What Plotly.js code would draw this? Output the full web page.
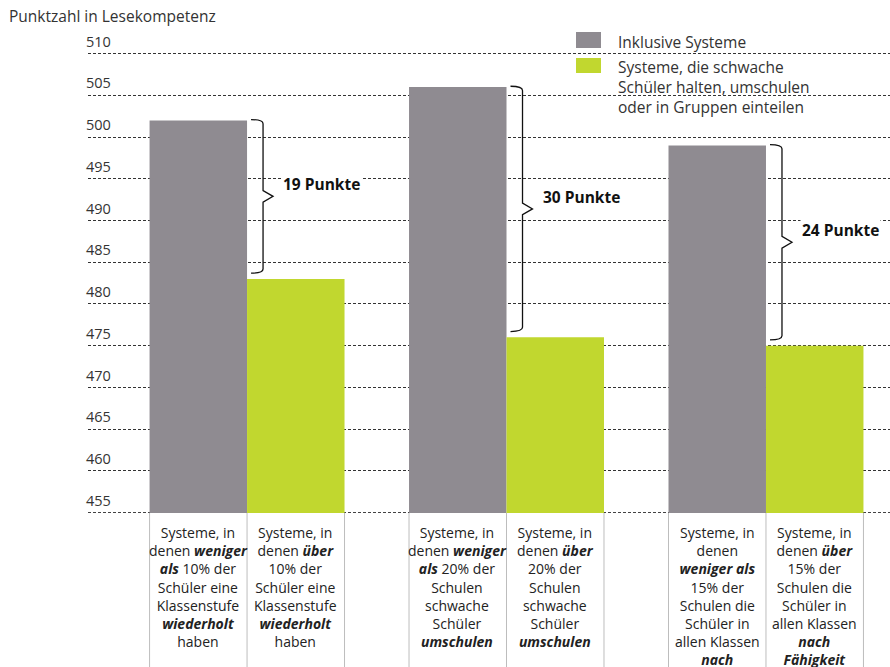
<!DOCTYPE html>
<html>
<head>
<meta charset="utf-8">
<script src="https://cdn.plot.ly/plotly-3.0.1.min.js"></script>
<style>html,body{margin:0;padding:0;background:#fff;}#chart{width:890px;height:667px;}</style>
</head>
<body>
<div id="chart"></div>
<script>
// ---------- data ----------
const groupIndex = [0, 1, 2];
const inclusiveValues = [502, 506, 499];
const selectiveValues = [483, 476, 475];
const seriesNames = ["Inklusive Systeme", "Systeme, die schwache<br>Schüler halten, umschulen<br>oder in Gruppen einteilen"];
const yAxisLabel = "Punktzahl in Lesekompetenz";
const yTicks = [455, 460, 465, 470, 475, 480, 485, 490, 495, 500, 505, 510];
const diffUnit = "Punkte";
const inclusiveLabels = [
  "Systeme, in<br>denen <b><i>weniger</i></b><br><b><i>als</i></b> 10% der<br>Schüler eine<br>Klassenstufe<br><b><i>wiederholt</i></b><br>haben",
  "Systeme, in<br>denen <b><i>weniger</i></b><br><b><i>als</i></b> 20% der<br>Schulen<br>schwache<br>Schüler<br><b><i>umschulen</i></b>",
  "Systeme, in<br>denen<br><b><i>weniger als</i></b><br>15% der<br>Schulen die<br>Schüler in<br>allen Klassen<br><b><i>nach</i></b>"
];
const selectiveLabels = [
  "Systeme, in<br>denen <b><i>über</i></b><br>10% der<br>Schüler eine<br>Klassenstufe<br><b><i>wiederholt</i></b><br>haben",
  "Systeme, in<br>denen <b><i>über</i></b><br>20% der<br>Schulen<br>schwache<br>Schüler<br><b><i>umschulen</i></b>",
  "Systeme, in<br>denen <b><i>über</i></b><br>15% der<br>Schulen die<br>Schüler in<br>allen Klassen<br><b><i>nach</i></b><br><b><i>Fähigkeit</i></b>"
];

// ---------- styles ----------
const GRAY = "#8f8b91", GREEN = "#c1d72f";
const FONT = "Open Sans, DejaVu Sans, sans-serif";
const W = 890, H = 667, ML = 88, MR = 0, MT = 37, MB = 154;
const BAR_W = 0.3757;
const plotW = W - ML - MR, plotH = H - MT - MB;
const px2x = p => (p - ML) / plotW;
const px2y = p => (H - MB - p) / plotH;

const traces = [
  {type: "bar", name: seriesNames[0], x: groupIndex, y: inclusiveValues, width: BAR_W, offset: -BAR_W,
   marker: {color: GRAY, line: {width: 0}}, showlegend: false, hoverinfo: "y"},
  {type: "bar", name: seriesNames[1], x: groupIndex, y: selectiveValues, width: BAR_W, offset: 0,
   marker: {color: GREEN, line: {width: 0}}, showlegend: false, hoverinfo: "y"}
];

const shapes = [];
const annotations = [];

// baseline gridline (lowest tick)
shapes.push({type: "line", layer: "below", xref: "paper", yref: "y", x0: 0, x1: 1, y0: yTicks[0], y1: yTicks[0],
  line: {color: "#333", width: 1, dash: "3px,2px"}});

// legend backdrop (covers gridlines) and swatches
shapes.push({type: "rect", layer: "below", xref: "paper", yref: "paper",
  x0: px2x(550), x1: px2x(833), y0: px2y(114), y1: px2y(22), fillcolor: "#fff", line: {width: 0}});
shapes.push({type: "rect", xref: "paper", yref: "paper",
  x0: px2x(576), x1: px2x(601), y0: px2y(48), y1: px2y(32), fillcolor: GRAY, line: {width: 0}});
shapes.push({type: "rect", xref: "paper", yref: "paper",
  x0: px2x(576), x1: px2x(601), y0: px2y(73), y1: px2y(58), fillcolor: GREEN, line: {width: 0}});
annotations.push({xref: "paper", yref: "paper", x: px2x(616), y: px2y(42), xanchor: "left", yanchor: "middle",
  text: seriesNames[0], showarrow: false, align: "left", font: {family: FONT, size: 15.5, color: "#333"}});
annotations.push({xref: "paper", yref: "paper", x: px2x(616), y: px2y(87), xanchor: "left", yanchor: "middle",
  text: seriesNames[1], showarrow: false, align: "left", font: {family: FONT, size: 15.5, color: "#333"}});

groupIndex.forEach((g, i) => {
  // separators below axis
  [g - BAR_W, g, g + BAR_W].forEach(xv => {
    shapes.push({type: "line", xref: "x", yref: "paper", x0: xv, x1: xv, y0: 0, y1: -0.34,
      line: {color: "#bdbdbd", width: 1}});
  });
  // category labels
  annotations.push({xref: "x", yref: "paper", x: g - BAR_W / 2, y: 0, yanchor: "top", yshift: -8,
    text: inclusiveLabels[i], showarrow: false, align: "center", font: {family: FONT, size: 14, color: "#222"}});
  annotations.push({xref: "x", yref: "paper", x: g + BAR_W / 2, y: 0, yanchor: "top", yshift: -8,
    text: selectiveLabels[i], showarrow: false, align: "center", font: {family: FONT, size: 14, color: "#222"}});
  // brace
  const T = inclusiveValues[i] + 0.1, B = selectiveValues[i] + 0.7, M = (T + B) / 2, r = 0.5;
  shapes.push({type: "path", xref: "x", yref: "y", xsizemode: "pixel", xanchor: g,
    path: `M 4,${T} Q 16,${T} 16,${T - r} L 16,${M + 0.7} L 26,${M} L 16,${M - 0.7} L 16,${B + r} Q 16,${B} 4,${B}`,
    line: {color: "#111", width: 1.3}});
  annotations.push({xref: "x", yref: "y", x: g, xshift: 34, y: M, yshift: 12, xanchor: "left", yanchor: "middle",
    text: "<b>" + Math.round(inclusiveValues[i] - selectiveValues[i]) + " " + diffUnit + "</b>",
    showarrow: false, bgcolor: "#fff", borderpad: 1, font: {family: FONT, size: 15.5, color: "#111"}});
});

const layout = {
  width: W, height: H,
  margin: {l: ML, r: MR, t: MT, b: MB, pad: 0},
  paper_bgcolor: "#fff", plot_bgcolor: "#fff",
  barmode: "overlay",
  showlegend: false,
  title: {text: yAxisLabel, xref: "container", yref: "container", x: 9 / W, xanchor: "left",
    y: 1 - 17 / H, yanchor: "middle", font: {family: FONT, size: 15.5, color: "#333"}},
  xaxis: {range: [-0.613, 2.478], showticklabels: false, showgrid: false, zeroline: false, showline: false, ticks: ""},
  yaxis: {range: [454.95, 512], tickvals: yTicks, ticktext: yTicks.map(String),
    showgrid: true, gridcolor: "#333", gridwidth: 1, griddash: "3px,2px",
    zeroline: false, showline: false, ticks: "",
    ticklabelposition: "inside", ticklabelshift: -12, ticklabelstandoff: -5, ticklabeloverflow: "allow",
    tickfont: {family: FONT, size: 14.5, color: "#333"}},
  shapes: shapes,
  annotations: annotations
};

Plotly.newPlot("chart", traces, layout, {staticPlot: true, displayModeBar: false});
</script>
</body>
</html>
